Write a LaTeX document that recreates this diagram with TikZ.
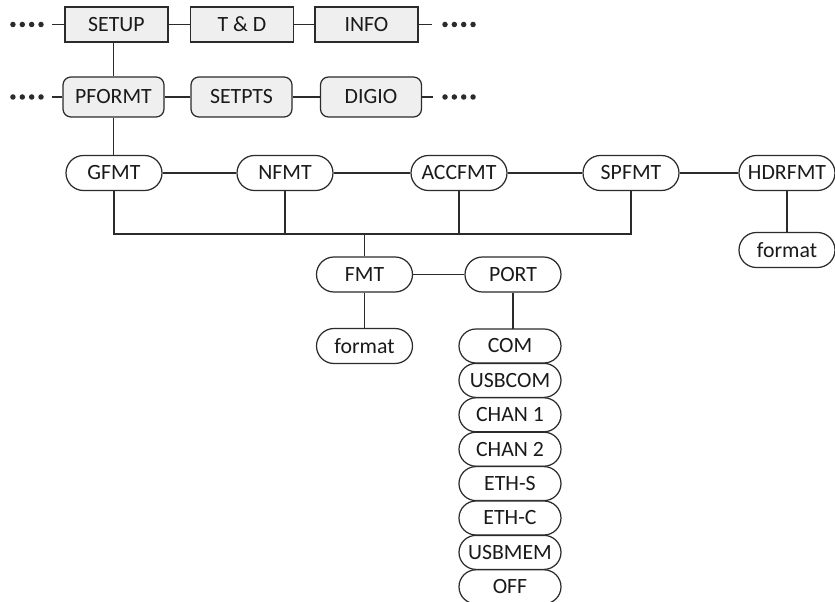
\documentclass[tikz,border=0pt]{standalone}
\usepackage{fontspec}
\setmainfont{Carlito}
\usetikzlibrary{positioning}
\definecolor{Ink}{HTML}{2B2B2B}
\definecolor{Shade}{HTML}{EFEFEF}
\definecolor{Type}{HTML}{1A1A1A}
\newcommand\menufont{\fontsize{12.4pt}{14pt}\selectfont}

\begin{document}
\begin{tikzpicture}
    \tikzset{
      menubox/.style={draw=Ink,fill=Shade,line width=0.7pt,minimum width=2.06cm,minimum height=0.70cm,
                   inner sep=0pt,text=Type,font=\menufont},
      subbox/.style={menubox,rounded corners=0.16cm,minimum width=2.02cm,minimum height=0.80cm},
      pill/.style={draw=Ink,fill=white,line width=0.7pt,rounded corners=0.35cm,minimum width=1.92cm,
                   minimum height=0.70cm,inner sep=0pt,text=Type,font=\menufont},
      portpill/.style={pill,outer sep=0pt,rounded corners=0.34cm,minimum width=2.04cm,minimum height=0.68cm},
      link/.style={draw=Ink,line width=0.7pt},
      dotrow/.style={draw=Ink,line width=0.11cm,line cap=round,dash pattern=on 0pt off 0.187cm}
    }
    \fill[white] (0,0) rectangle (16.70,-12.04);
    \useasboundingbox (0,0) rectangle (16.70,-12.04);

    % top menu row
    \node[menubox] (setup) at (2.33,-0.49) {SETUP};
    \node[menubox] (td) at (4.84,-0.49) {T \& D};
    \node[menubox] (info) at (7.33,-0.49) {INFO};
    \draw[link] (setup) -- (td);
    \draw[link] (td) -- (info);
    \coordinate (setupL) at (1.04,-0.49);
    \coordinate (infoR) at (8.64,-0.49);
    \draw[link] (setupL) -- (setup);
    \draw[link] (info) -- (infoR);
    \draw[dotrow] (0.82,-0.49) -- (0.25,-0.49);
    \draw[dotrow] (8.90,-0.49) -- (9.47,-0.49);

    % setup sub menu
    \node[subbox] (pformt) at (2.27,-1.94) {PFORMT};
    \node[subbox] (setpts) at (4.83,-1.94) {SETPTS};
    \node[subbox] (digio) at (7.42,-1.94) {DIGIO};
    \draw[link] (pformt) -- (setpts);
    \draw[link] (setpts) -- (digio);
    \coordinate (pformtL) at (1.04,-1.94);
    \coordinate (digioR) at (8.66,-1.94);
    \draw[link] (pformtL) -- (pformt);
    \draw[link] (digio) -- (digioR);
    \draw[dotrow] (0.82,-1.94) -- (0.25,-1.94);
    \draw[dotrow] (8.90,-1.94) -- (9.47,-1.94);
    \draw[link] (pformt.north) -- (pformt.north |- setup.south);

    % print formats
    \node[pill] (gfmt) at (2.28,-3.46) {GFMT};
    \node[pill] (nfmt) at (5.70,-3.46) {NFMT};
    \node[pill] (accfmt) at (9.18,-3.46) {ACCFMT};
    \node[pill] (spfmt) at (12.62,-3.46) {SPFMT};
    \node[pill] (hdrfmt) at (15.74,-3.46) {HDRFMT};
    \draw[link] (pformt.south) -- (pformt.south |- gfmt.north);
    \draw[link] (gfmt) -- (nfmt);
    \draw[link] (nfmt) -- (accfmt);
    \draw[link] (accfmt) -- (spfmt);
    \draw[link] (spfmt) -- (hdrfmt);
    \node[pill] (hdrform) at (15.74,-5.00) {format};
    \draw[link] (hdrfmt) -- (hdrform);

    % common format / port
    \coordinate (bus) at (7.29,-4.68);
    \node[pill] (fmt) at (7.29,-5.49) {FMT};
    \node[pill] (port) at (10.26,-5.49) {PORT};
    \draw[link] (gfmt.south) |- (bus) -| (spfmt.south);
    \draw[link] (nfmt.south) -- (nfmt.south |- bus);
    \draw[link] (accfmt.south) -- (accfmt.south |- bus);
    \draw[link] (fmt.north) -- (bus);
    \draw[link] (fmt) -- (port);
    \node[pill] (fmtform) at (7.29,-6.92) {format};
    \draw[link] (fmt) -- (fmtform);

    % port choices
    \node[portpill] (com) at (10.20,-6.92) {COM};
    \node[portpill,below=0.008cm of com] (usbcom) {USBCOM};
    \node[portpill,below=0.008cm of usbcom] (chan1) {CHAN 1};
    \node[portpill,below=0.008cm of chan1] (chan2) {CHAN 2};
    \node[portpill,below=0.008cm of chan2] (eths) {ETH-S};
    \node[portpill,below=0.008cm of eths] (ethc) {ETH-C};
    \node[portpill,below=0.008cm of ethc] (usbmem) {USBMEM};
    \node[portpill,below=0.008cm of usbmem] (off) {OFF};
    \draw[link] (port.south) -- (port.south |- com.north);
  \end{tikzpicture}
\end{document}
